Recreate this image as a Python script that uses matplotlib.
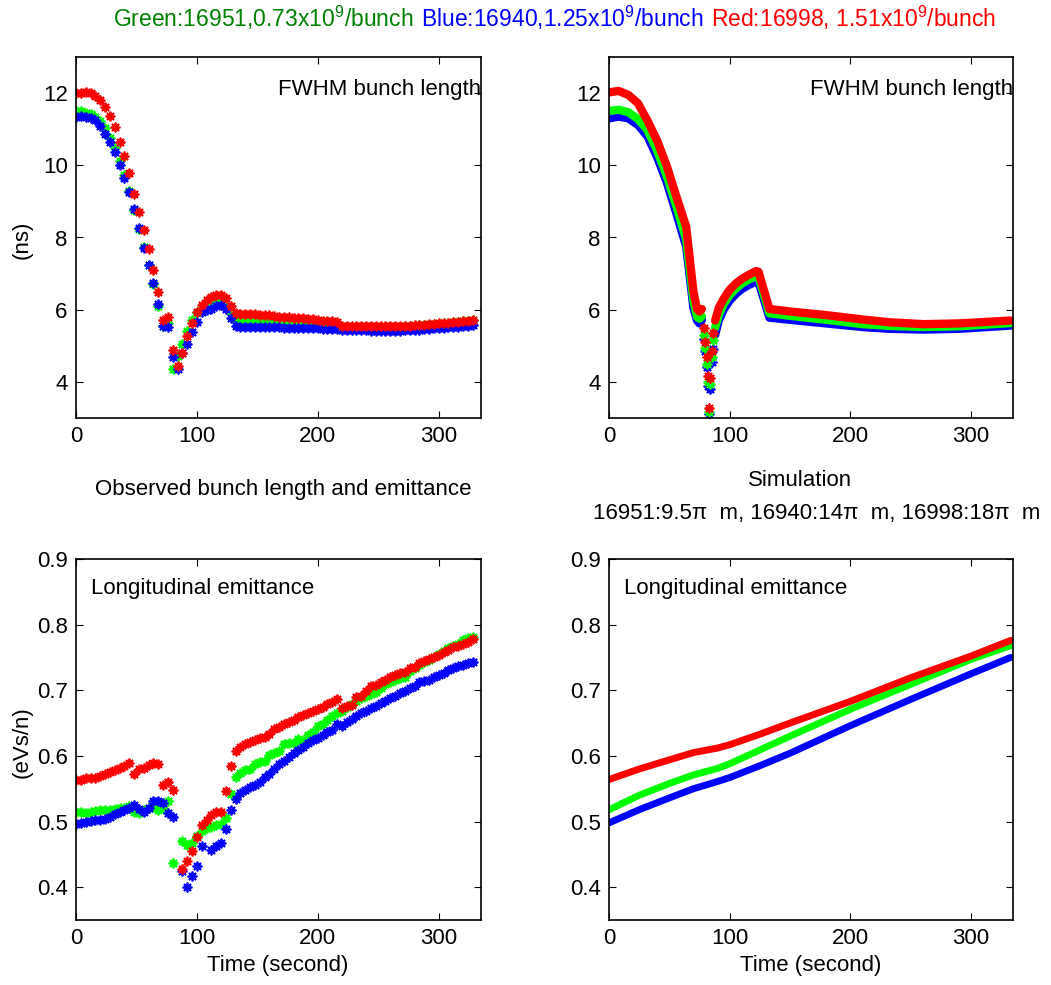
import numpy as np
import matplotlib
matplotlib.use("Agg")
import matplotlib.pyplot as plt

plt.rcParams['font.family'] = ['Liberation Sans', 'DejaVu Sans']
plt.rcParams['font.size'] = 16

# observed data, one sample every 4 s
t_obs = np.arange(0, 332, 4)

fwhm_red = [12.00, 12.00, 12.02, 12.00, 11.93, 11.82, 11.62, 11.37, 11.05, 10.65, 10.25, 9.80, 9.20, 8.72, 8.20, 7.68, 7.10,
            6.50, 5.72, 5.80, 4.88, 4.45, 4.80, 5.28, 5.62, 5.93, 6.13, 6.27, 6.36, 6.41, 6.42, 6.32, 6.10, 5.90,
            5.89, 5.89, 5.88, 5.87, 5.86, 5.85, 5.84, 5.82, 5.81, 5.80, 5.79, 5.78, 5.77, 5.76, 5.74, 5.73, 5.72,
            5.70, 5.69, 5.68, 5.67,
            5.56, 5.55, 5.55, 5.55, 5.55, 5.55, 5.55, 5.55, 5.55, 5.55, 5.55, 5.55, 5.55, 5.56, 5.56, 5.57, 5.58,
            5.59, 5.60, 5.61, 5.62, 5.63, 5.64, 5.65, 5.67, 5.68, 5.70, 5.72]
fwhm_green = [11.50, 11.50, 11.46, 11.42, 11.35, 11.22, 11.02, 10.77, 10.47, 10.13, 9.72, 9.30, 8.75, 8.24, 7.74, 7.23,
              6.70, 6.10, 5.55, 5.62, 4.35, 4.72, 5.05, 5.42, 5.72, 5.92, 6.04, 6.18, 6.27, 6.32, 6.33, 6.10, 5.87, 5.71,
              5.71, 5.70, 5.70, 5.69, 5.69, 5.68, 5.67, 5.67, 5.66, 5.65, 5.65, 5.64, 5.63, 5.62, 5.62, 5.61, 5.60,
              5.59, 5.58, 5.58, 5.57,
              5.53, 5.53, 5.53, 5.53, 5.53, 5.53, 5.53, 5.53, 5.53, 5.53, 5.53, 5.53, 5.53, 5.54, 5.55, 5.56, 5.57,
              5.58, 5.59, 5.60, 5.61, 5.62, 5.64, 5.65, 5.66, 5.68, 5.69, 5.71]
fwhm_blue = [11.35, 11.36, 11.35, 11.32, 11.25, 11.10, 10.88, 10.65, 10.37, 10.02, 9.65, 9.25, 8.80, 8.25, 7.70, 7.23,
             6.75, 6.17, 5.55, 5.52, 4.68, 4.36, 4.80, 5.05, 5.38, 5.65, 5.93, 6.00, 6.03, 6.10, 6.14, 6.02, 5.77, 5.55,
             5.53, 5.53, 5.53, 5.52, 5.52, 5.52, 5.51, 5.51, 5.51, 5.50, 5.50, 5.49, 5.49, 5.49, 5.48, 5.48, 5.48,
             5.47, 5.47, 5.47, 5.46,
             5.45, 5.45, 5.44, 5.44, 5.43, 5.43, 5.42, 5.42, 5.42, 5.42, 5.42, 5.42, 5.42, 5.43, 5.43, 5.44, 5.45,
             5.46, 5.47, 5.48, 5.49, 5.50, 5.51, 5.52, 5.53, 5.54, 5.56, 5.57]

nan = np.nan
emit_red = [0.563, 0.563, 0.566, 0.566, 0.567, 0.570, 0.573, 0.576, 0.579, 0.581, 0.584, 0.589, 0.572, 0.580, 0.582,
            0.586, 0.589, 0.588, 0.555, 0.560, 0.548, nan, 0.427, 0.440, 0.455, 0.477, 0.494, 0.502, 0.510, 0.515,
            0.515, 0.547, 0.584,
            0.607, 0.613, 0.618, 0.621, 0.624, 0.628, 0.629, 0.634, 0.641, 0.644, 0.649, 0.652, 0.655, 0.659, 0.662,
            0.665, 0.668, 0.672, 0.674, 0.679, 0.682, 0.687,
            0.673, 0.676, 0.677, 0.689, 0.692, 0.699, 0.706, 0.708, 0.712, 0.716, 0.720, 0.723, 0.726, 0.728, 0.734,
            0.735, 0.741, 0.745, 0.748, 0.751, 0.753, 0.758, 0.761, 0.766, 0.768, 0.771, 0.774, 0.778]
emit_green = [0.514, 0.514, 0.513, 0.514, 0.516, 0.517, 0.518, 0.518, 0.519, 0.520, 0.521, 0.523, 0.514, 0.513, 0.518,
              0.520, 0.522, 0.518, 0.520, 0.531, 0.437, nan, 0.470, 0.464, 0.468, 0.478, 0.485, 0.490, 0.492, 0.495,
              0.497, 0.506, 0.542,
              0.568, 0.574, 0.579, 0.580, 0.587, 0.590, 0.593, 0.601, 0.604, 0.608, 0.618, 0.620, 0.619, 0.626, 0.622,
              0.632, 0.637, 0.645, 0.649, 0.655, 0.661, 0.665,
              0.669, 0.674, 0.679, 0.684, 0.688, 0.692, 0.695, 0.697, 0.704, 0.709, 0.712, 0.715, 0.718, 0.720, 0.730,
              0.734, 0.738, 0.743, 0.746, 0.750, 0.755, 0.760, 0.765, 0.768, 0.771, 0.776, 0.779, 0.781]
emit_blue = [0.497, 0.498, 0.500, 0.501, 0.502, 0.503, 0.504, 0.507, 0.511, 0.514, 0.517, 0.520, 0.525, 0.519, 0.515,
             0.521, 0.532, 0.532, 0.528, 0.513, 0.507, nan, 0.424, 0.401, 0.417, 0.432, 0.463, nan, 0.457, 0.462,
             0.468, 0.489, 0.517,
             0.535, 0.543, 0.548, 0.552, 0.556, 0.561, 0.568, 0.572, 0.580, 0.588, 0.592, 0.598, 0.604, 0.609, 0.613,
             0.619, 0.624, 0.628, 0.632, 0.636, 0.640, 0.648,
             0.646, 0.651, 0.656, 0.661, 0.666, 0.669, 0.673, 0.676, 0.680, 0.684, 0.688, 0.692, 0.696, 0.699, 0.703,
             0.706, 0.712, 0.714, 0.716, 0.720, 0.724, 0.727, 0.731, 0.734, 0.737, 0.739, 0.741, 0.743]

# simulation
t_sim = [0, 8, 16, 24, 32, 40, 48, 56, 64, 70, 73, 75, 77, 79, 80, 81, 82, 83, 84, 85, 86, 88, 91, 95, 100, 105,
         110, 115, 122, 124, 133, 150, 180, 210, 233, 261, 290, 333]
sim_fwhm_red = [12.02, 12.06, 11.95, 11.72, 11.23, 10.68, 9.97, 9.12, 8.30, 6.50, 6.02, 5.95, 6.02, 5.50, 5.10, 4.70,
                4.15, 3.28, 4.10, 4.85, 5.35, 5.70, 6.05, 6.30, 6.55, 6.72, 6.85, 6.95, 7.07, 7.05, 6.02, 5.95, 5.85,
                5.73, 5.65, 5.60, 5.62, 5.70]
sim_fwhm_green = [11.50, 11.54, 11.47, 11.28, 10.97, 10.40, 9.70, 8.85, 7.95, 6.25, 5.80, 5.75, 5.82, 5.30, 4.95, 4.50,
                  4.00, 3.18, 3.95, 4.70, 5.15, 5.50, 5.85, 6.15, 6.40, 6.58, 6.72, 6.82, 6.93, 6.92, 5.90, 5.83, 5.72,
                  5.60, 5.55, 5.52, 5.54, 5.63]
sim_fwhm_blue = [11.30, 11.35, 11.30, 11.12, 10.80, 10.22, 9.52, 8.65, 7.75, 6.05, 5.70, 5.62, 5.72, 5.20, 4.85, 4.40,
                 3.90, 3.12, 3.80, 4.55, 4.90, 5.30, 5.70, 6.00, 6.25, 6.43, 6.57, 6.67, 6.78, 6.77, 5.78, 5.72, 5.62,
                 5.52, 5.47, 5.45, 5.47, 5.56]

t_sim2 = [0, 25, 50, 70, 90, 100, 125, 150, 200, 250, 300, 333]
sim_emit_red = [0.564, 0.580, 0.594, 0.605, 0.612, 0.617, 0.633, 0.650, 0.683, 0.719, 0.752, 0.776]
sim_emit_green = [0.518, 0.540, 0.558, 0.571, 0.581, 0.588, 0.609, 0.630, 0.671, 0.709, 0.747, 0.768]
sim_emit_blue = [0.498, 0.518, 0.536, 0.550, 0.561, 0.567, 0.585, 0.604, 0.646, 0.686, 0.725, 0.750]

GREEN = '#00ff00'
colors = [GREEN, 'b', 'r']
star = (8, 2, 0)

W, H = 1051, 985
fig = plt.figure(figsize=(W / 100, H / 100), dpi=100)


def box(l, t, r, b):
    return fig.add_axes([l / W, 1 - b / H, (r - l) / W, (b - t) / H])


ax1 = box(76, 57, 481, 418)
ax2 = box(609, 57, 1013, 418)
ax3 = box(76, 559, 481, 920)
ax4 = box(609, 559, 1013, 920)

for ys, c in zip([fwhm_green, fwhm_blue, fwhm_red], colors):
    ax1.plot(t_obs, ys, linestyle='none', marker=star, ms=7, mew=1.3, color=c)
for ys, c in zip([emit_green, emit_blue, emit_red], colors):
    ax3.plot(t_obs, ys, linestyle='none', marker=star, ms=7, mew=1.3, color=c)

# simulated FWHM: thick band, the fast dip around 80 s shows as separate points
ts = np.array(t_sim)
in_dip = (ts > 78) & (ts < 87)
for ys, c in zip([sim_fwhm_blue, sim_fwhm_green, sim_fwhm_red], ['b', GREEN, 'r']):
    ys = np.array(ys)
    band = np.where(in_dip, np.nan, ys)
    ax2.plot(ts, band, '-', lw=6, color=c, solid_capstyle='round')
    ax2.plot(ts[in_dip], ys[in_dip], linestyle='none', marker=star, ms=7, mew=1.3, color=c)
for ys, c in zip([sim_emit_blue, sim_emit_green, sim_emit_red], ['b', GREEN, 'r']):
    ax4.plot(t_sim2, ys, '-', lw=5, color=c, solid_capstyle='round')

for ax in (ax1, ax2):
    ax.set_ylim(3, 13)
    ax.set_yticks([4, 6, 8, 10, 12])
    ax.text(1.0, 0.909, 'FWHM bunch length', transform=ax.transAxes, ha='right', va='center')
for ax in (ax3, ax4):
    ax.set_ylim(0.35, 0.9)
    ax.set_yticks([0.4, 0.5, 0.6, 0.7, 0.8, 0.9])
    ax.text(0.036, 0.917, 'Longitudinal emittance', transform=ax.transAxes, ha='left', va='center')
for ax in (ax1, ax2, ax3, ax4):
    ax.set_xlim(0, 335)
    ax.set_xticks([0, 100, 200, 300])
    ax.tick_params(direction='in', top=True, right=True, length=5, labelsize=16, pad=6)
    for s in ax.spines.values():
        s.set_linewidth(1.2)

# text around the panels
fs_title = 16.5
fig.text(113 / W, 1 - 18 / H, r'Green:16951,0.73x10$\mathregular{^9}$/bunch', color='#008000',
         ha='left', va='center', fontsize=fs_title)
fig.text(421 / W, 1 - 18 / H, r'Blue:16940,1.25x10$\mathregular{^9}$/bunch', color='b',
         ha='left', va='center', fontsize=fs_title)
fig.text(711 / W, 1 - 18 / H, r'Red:16998, 1.51x10$\mathregular{^9}$/bunch', color='r',
         ha='left', va='center', fontsize=fs_title)
fig.text(22 / W, 1 - 240 / H, '(ns)', rotation=90, ha='center', va='center')
fig.text(22 / W, 1 - 742 / H, '(eVs/n)', rotation=90, ha='center', va='center')
fig.text(283 / W, 1 - 490 / H, 'Observed bunch length and emittance', ha='center', va='center')
fig.text(800 / W, 1 - 480 / H, 'Simulation', ha='center', va='center')
fig.text(817 / W, 1 - 514 / H, '16951:9.5\u03c0  m, 16940:14\u03c0  m, 16998:18\u03c0  m', ha='center', va='center')
fig.text(278 / W, 1 - 965 / H, 'Time (second)', ha='center', va='center')
fig.text(811 / W, 1 - 965 / H, 'Time (second)', ha='center', va='center')

fig.savefig('out.png', dpi=100)
